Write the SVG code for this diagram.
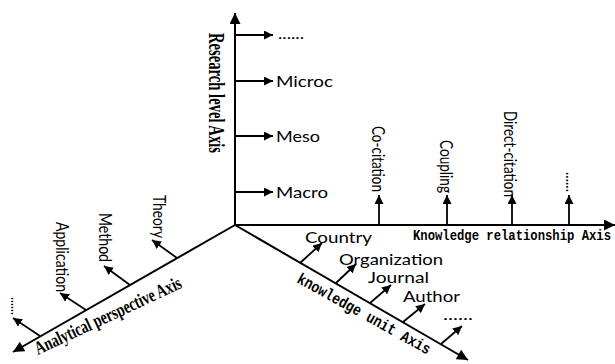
<svg xmlns="http://www.w3.org/2000/svg" width="615" height="364" viewBox="0 0 615 364">
<style>
.ax{stroke:#000;stroke-width:2;fill:none}
.tk{stroke:#000;stroke-width:1.8;fill:none}
.lb{font-family:Lato,"Open Sans",sans-serif;font-size:15px;fill:#000}
.lv{font-family:Lato,"Open Sans",sans-serif;font-size:17px;fill:#000}
.ts{font-family:"Liberation Serif",serif;font-weight:bold;fill:#000}
.tm{font-family:"Liberation Mono",monospace;font-weight:bold;fill:#000}
</style>
<defs>
<marker id="big" viewBox="0 0 10 10" refX="10" refY="5" markerWidth="12" markerHeight="11" markerUnits="userSpaceOnUse" orient="auto"><path d="M0,0 L10,5 L0,10 z" fill="#000"/></marker>
<marker id="sm" viewBox="0 0 10 10" refX="10" refY="5" markerWidth="9" markerHeight="9" markerUnits="userSpaceOnUse" orient="auto"><path d="M0,0 L10,5 L0,10 z" fill="#000"/></marker>
</defs>
<rect width="615" height="364" fill="#fff"/>
<g id="connectors">
<path class="ax" d="M235,226 L235,13" marker-end="url(#big)"/>
<path class="ax" d="M234,225 L615,225" marker-end="url(#big)"/>
<path class="ax" d="M235,225 L13,352" marker-end="url(#big)"/>
<path class="ax" d="M235,225 L468,360" marker-end="url(#big)"/>
<path class="tk" d="M235,35 L273,35" marker-end="url(#sm)"/>
<path class="tk" d="M235,81 L273,81" marker-end="url(#sm)"/>
<path class="tk" d="M235,136 L273,136" marker-end="url(#sm)"/>
<path class="tk" d="M235,192 L273,192" marker-end="url(#sm)"/>
<path class="tk" d="M379,225 L379,195" marker-end="url(#sm)"/>
<path class="tk" d="M447,225 L447,195" marker-end="url(#sm)"/>
<path class="tk" d="M512,225 L512,195" marker-end="url(#sm)"/>
<path class="tk" d="M569,225 L569,195" marker-end="url(#sm)"/>
<path class="tk" d="M177,258 L152,240" marker-end="url(#sm)"/>
<path class="tk" d="M130,285 L104,266" marker-end="url(#sm)"/>
<path class="tk" d="M86,310 L60,293" marker-end="url(#sm)"/>
<path class="tk" d="M40,336 L13,318" marker-end="url(#sm)"/>
<path class="tk" d="M300,263 L322,243" marker-end="url(#sm)"/>
<path class="tk" d="M336,283 L356,264" marker-end="url(#sm)"/>
<path class="tk" d="M370,303 L391,285" marker-end="url(#sm)"/>
<path class="tk" d="M403,322 L425,304" marker-end="url(#sm)"/>
<path class="tk" d="M441,344 L462,326" marker-end="url(#sm)"/>
</g>
<g id="research-axis"><text class="ts" font-size="24" transform="translate(209,33) rotate(90)" textLength="120" lengthAdjust="spacingAndGlyphs">Research level Axis</text></g>
<g id="relationship-axis"><text class="tm" font-size="14" x="413" y="240" textLength="198" lengthAdjust="spacingAndGlyphs">Knowledge relationship Axis</text></g>
<g id="perspective-axis"><text class="ts" font-size="19" transform="translate(38,355) rotate(-25)" textLength="160" lengthAdjust="spacingAndGlyphs">Analytical perspective Axis</text></g>
<g id="unit-axis"><text class="tm" font-size="16" transform="translate(296,282) rotate(29)" textLength="150" lengthAdjust="spacingAndGlyphs">knowledge unit Axis</text></g>
<g id="level-more"><text class="lb" x="278" y="39" textLength="26" lengthAdjust="spacingAndGlyphs">......</text></g>
<g id="microc"><text class="lb" x="276" y="87" textLength="57" lengthAdjust="spacingAndGlyphs">Microc</text></g>
<g id="meso"><text class="lb" x="276" y="141.5" textLength="44" lengthAdjust="spacingAndGlyphs">Meso</text></g>
<g id="macro"><text class="lb" x="276" y="198" textLength="52" lengthAdjust="spacingAndGlyphs">Macro</text></g>
<g id="co-citation"><text class="lv" transform="translate(372,126) rotate(90)" textLength="66" lengthAdjust="spacingAndGlyphs">Co-citation</text></g>
<g id="coupling"><text class="lv" transform="translate(440,140) rotate(90)" textLength="53" lengthAdjust="spacingAndGlyphs">Coupling</text></g>
<g id="direct-citation"><text class="lv" transform="translate(504,111) rotate(90)" textLength="86" lengthAdjust="spacingAndGlyphs">Direct-citation</text></g>
<g id="relation-more"><text class="lv" transform="translate(566,172) rotate(90)" textLength="20" lengthAdjust="spacingAndGlyphs">......</text></g>
<g id="theory"><text class="lv" transform="translate(153,195) rotate(90)" textLength="43" lengthAdjust="spacingAndGlyphs">Theory</text></g>
<g id="method"><text class="lv" transform="translate(99,213) rotate(90)" textLength="49" lengthAdjust="spacingAndGlyphs">Method</text></g>
<g id="application"><text class="lv" transform="translate(56,222) rotate(90)" textLength="70" lengthAdjust="spacingAndGlyphs">Application</text></g>
<g id="perspective-more"><text class="lv" transform="translate(11,297) rotate(90)" textLength="18" lengthAdjust="spacingAndGlyphs">......</text></g>
<g id="country"><text class="lb" x="305" y="243.3" textLength="67" lengthAdjust="spacingAndGlyphs">Country</text></g>
<g id="organization"><text class="lb" x="339" y="265" textLength="104" lengthAdjust="spacingAndGlyphs">Organization</text></g>
<g id="journal"><text class="lb" x="368" y="283.3" textLength="61" lengthAdjust="spacingAndGlyphs">Journal</text></g>
<g id="author"><text class="lb" x="403" y="301.7" textLength="57" lengthAdjust="spacingAndGlyphs">Author</text></g>
<g id="unit-more"><text class="lb" x="443" y="320" textLength="30" lengthAdjust="spacingAndGlyphs">......</text></g>
</svg>
